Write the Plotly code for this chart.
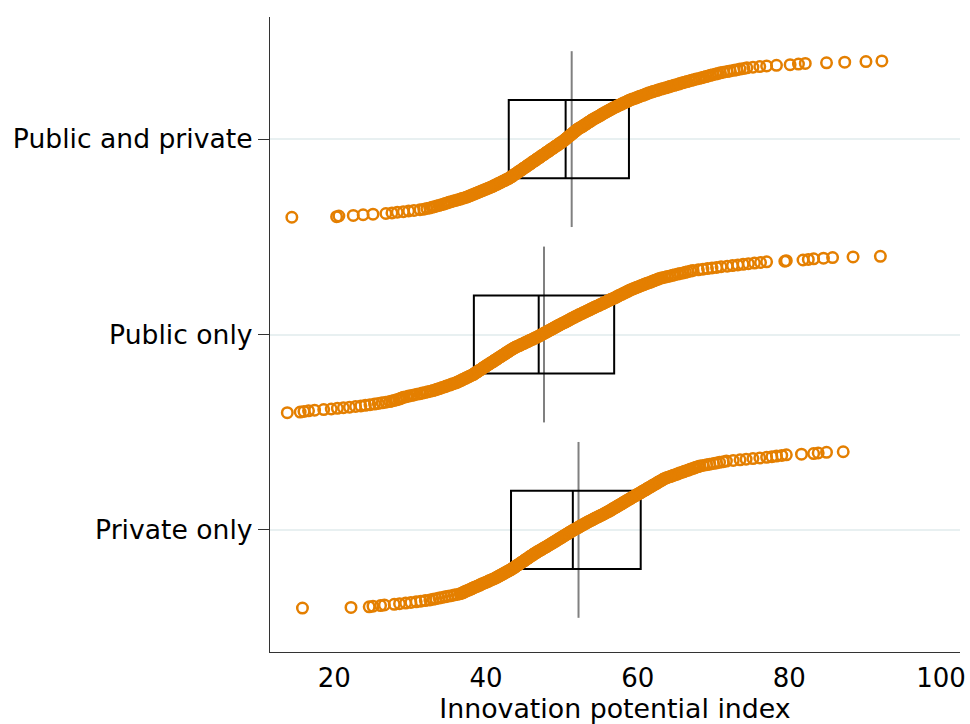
import plotly.graph_objects as go

# Groups, listed from the bottom row of the chart to the top row
categories = ["Private only", "Public only", "Public and private"]

# Innovation potential index of each firm, sorted ascending within its group
values_private = [
    15.8, 22.2, 24.6, 25.1, 26.1, 26.6, 27.9, 28.6, 29.4, 30.1,
    30.8, 31.4, 32.0, 32.6,
    33.0, 33.4, 33.8, 34.2, 34.6, 35.0, 35.4, 35.8, 36.2, 36.6,
    36.8, 37.0, 37.1, 37.3, 37.5, 37.7, 37.9, 38.1, 38.2, 38.4,
    38.6, 38.8, 39.0, 39.2, 39.3, 39.5, 39.7, 39.9, 40.1, 40.3,
    40.4, 40.6, 40.8, 41.0,
    41.2, 41.3, 41.5, 41.6, 41.8, 41.9, 42.1, 42.2, 42.4, 42.5,
    42.7, 42.8, 43.0, 43.1, 43.3,
    43.4, 43.5, 43.7, 43.8, 43.9, 44.0, 44.1, 44.3, 44.4, 44.5,
    44.6, 44.7, 44.9, 45.0, 45.1, 45.2, 45.3, 45.5, 45.6, 45.7,
    45.8, 45.9, 46.1, 46.2, 46.3,
    46.4, 46.6, 46.7, 46.8, 47.0, 47.1, 47.3, 47.4, 47.5, 47.7,
    47.8, 48.0, 48.1, 48.2, 48.4, 48.5, 48.6, 48.8, 48.9,
    49.0, 49.2, 49.3, 49.4, 49.6, 49.7, 49.8, 50.0, 50.1, 50.2,
    50.4, 50.5, 50.6, 50.8, 50.9, 51.0, 51.2, 51.3, 51.4,
    51.6, 51.7, 51.9, 52.0, 52.2, 52.3, 52.4, 52.6, 52.7, 52.9,
    53.0, 53.2, 53.3,
    53.5, 53.6, 53.8, 54.0, 54.1, 54.3, 54.4, 54.6, 54.8, 54.9,
    55.1, 55.3, 55.4, 55.6, 55.7, 55.9,
    56.0, 56.2, 56.3, 56.5, 56.6, 56.7, 56.9, 57.0, 57.2, 57.3,
    57.4, 57.6, 57.7, 57.9, 58.0, 58.1, 58.3, 58.4, 58.5, 58.7,
    58.8, 59.0, 59.1, 59.2, 59.4, 59.5, 59.7, 59.8, 59.9, 60.1,
    60.2, 60.4, 60.5, 60.6, 60.8, 60.9, 61.1, 61.2, 61.3, 61.5,
    61.6, 61.8, 61.9, 62.0, 62.2, 62.3, 62.5, 62.6, 62.7, 62.9,
    63.0, 63.2, 63.3, 63.4, 63.6, 63.8,
    64.0, 64.3, 64.5, 64.7, 65.0, 65.2, 65.4, 65.6, 65.9, 66.1,
    66.3, 66.6, 66.8, 67.0, 67.3, 67.5, 67.7, 68.0, 68.2,
    68.6, 69.1, 69.5, 70.0, 70.4, 70.8, 71.3, 71.7,
    72.6, 73.5, 74.3, 75.2, 76.1,
    77.0, 77.7, 78.3, 79.0, 79.6,
    81.6, 83.2, 83.8, 84.9, 87.1,
]

values_public = [
    13.8, 15.5, 16.0, 16.6, 17.4, 18.6, 19.6, 20.4, 21.2, 22.0,
    22.8, 23.5, 24.1, 24.7, 25.3, 25.8, 26.3, 26.8, 27.3,
    27.6, 27.9, 28.2, 28.5, 28.7, 28.9, 29.1,
    29.5, 29.8, 30.2, 30.5, 30.9, 31.3, 31.6, 32.0, 32.3, 32.7,
    33.0,
    33.3, 33.5, 33.8, 34.0, 34.2, 34.5, 34.7, 34.9, 35.2, 35.4,
    35.6, 35.9, 36.1,
    36.3, 36.4, 36.6, 36.8, 36.9, 37.1, 37.3, 37.4, 37.6, 37.8,
    37.9, 38.1, 38.3, 38.4,
    38.5, 38.6, 38.8, 38.9, 39.0, 39.1, 39.3, 39.4, 39.5, 39.6,
    39.7, 39.9, 40.0, 40.1, 40.2, 40.4, 40.5, 40.6, 40.7, 40.9,
    41.0,
    41.1, 41.2, 41.4, 41.5, 41.6, 41.7, 41.9, 42.0, 42.1, 42.2,
    42.4, 42.5, 42.6, 42.7, 42.9, 43.0, 43.1, 43.2, 43.4, 43.5,
    43.6,
    43.8, 43.9, 44.1, 44.3, 44.5, 44.6, 44.8, 45.0, 45.1, 45.3,
    45.5, 45.6, 45.8, 46.0, 46.2, 46.3, 46.5, 46.7, 46.8, 47.0,
    47.1, 47.3, 47.4, 47.6, 47.7, 47.9, 48.0, 48.2, 48.3, 48.5,
    48.6, 48.8, 48.9,
    49.1, 49.2, 49.4, 49.5, 49.7, 49.8, 50.0, 50.1, 50.3, 50.5,
    50.6, 50.8, 50.9, 51.1, 51.2, 51.4, 51.5,
    51.7, 51.8, 52.0, 52.2, 52.3, 52.5, 52.7, 52.8, 53.0, 53.2,
    53.3, 53.5, 53.7, 53.8, 54.0, 54.2,
    54.3, 54.5, 54.7, 54.9, 55.0, 55.2, 55.4, 55.5, 55.7, 55.9,
    56.0, 56.2, 56.4, 56.5, 56.7, 56.9,
    57.1, 57.2, 57.4, 57.5, 57.7, 57.9, 58.0, 58.2, 58.4, 58.5,
    58.7, 58.8, 59.0,
    59.2, 59.4, 59.6, 59.8, 60.0, 60.2, 60.4, 60.6, 60.8, 61.0,
    61.2, 61.5, 61.7, 61.9, 62.1, 62.3, 62.5, 62.7, 62.9,
    63.2, 63.6, 63.9, 64.3, 64.6, 64.9, 65.3, 65.6, 66.0, 66.3,
    66.6, 67.0, 67.3,
    68.0, 68.6, 69.2, 69.8, 70.4,
    71.0, 71.8, 72.5, 73.2, 73.9, 74.6, 75.4, 76.2, 77.0,
    79.4, 79.6, 81.8, 82.5, 83.2, 84.5, 85.7, 88.4, 92.0,
]

values_both = [
    14.4, 20.3, 20.6, 22.5, 23.8, 25.1, 26.8, 27.6, 28.3, 29.1,
    29.8, 30.5, 31.3,
    31.8, 32.2, 32.6, 32.9, 33.2,
    33.5, 33.8, 34.1, 34.4, 34.6, 34.9, 35.1, 35.4,
    35.7, 36.0, 36.3, 36.6, 36.8, 37.1, 37.4, 37.6,
    37.8, 38.0, 38.2, 38.4, 38.6, 38.8, 39.0, 39.2, 39.4, 39.6,
    39.8, 40.0, 40.2, 40.4, 40.6,
    40.8, 41.0, 41.1, 41.3, 41.5, 41.6, 41.8, 42.0, 42.1, 42.3,
    42.5, 42.6, 42.8, 43.0,
    43.1, 43.2, 43.4, 43.5, 43.6, 43.7, 43.8, 44.0, 44.1, 44.2,
    44.3, 44.4, 44.6, 44.7, 44.8, 44.9, 45.0, 45.2, 45.3, 45.4,
    45.5, 45.6, 45.8, 45.9, 46.0, 46.1, 46.2, 46.4, 46.5, 46.6,
    46.7, 46.8, 47.0, 47.1, 47.2, 47.3, 47.4, 47.6, 47.7, 47.8,
    47.9, 48.0, 48.2, 48.3, 48.4, 48.5, 48.6, 48.8, 48.9, 49.0,
    49.1, 49.2, 49.4, 49.5, 49.6, 49.7, 49.8, 50.0, 50.1, 50.2,
    50.3, 50.4,
    50.5, 50.6, 50.7, 50.8, 50.9, 51.0, 51.1, 51.2, 51.3, 51.4,
    51.5, 51.6, 51.7, 51.8, 51.9, 52.0, 52.1, 52.2, 52.4,
    52.5, 52.7, 52.8, 52.9, 53.0, 53.2, 53.3, 53.4, 53.5, 53.7,
    53.8, 53.9, 54.0, 54.2,
    54.3, 54.5, 54.6, 54.8, 54.9, 55.1, 55.2, 55.3, 55.5, 55.6,
    55.8, 55.9, 56.1, 56.2, 56.4, 56.5, 56.7, 56.8,
    57.0, 57.2, 57.3, 57.5, 57.7, 57.9, 58.0, 58.2, 58.4, 58.6,
    58.7, 58.9,
    59.1, 59.3, 59.6, 59.8, 60.0, 60.2, 60.4, 60.7, 60.9, 61.1,
    61.3, 61.5, 61.8, 62.0,
    62.3, 62.6, 62.8, 63.1, 63.4, 63.7, 64.0, 64.2, 64.5, 64.8,
    65.1, 65.4, 65.6, 65.9, 66.2, 66.5,
    66.8, 67.1, 67.4, 67.7, 68.1, 68.4, 68.7, 69.0, 69.3, 69.6,
    69.9, 70.3, 70.6, 70.9,
    71.3, 71.8, 72.2, 72.7, 73.1, 73.5, 74.0, 74.4,
    75.2, 76.1, 77.0, 78.3, 80.1, 81.2, 82.1, 84.9, 87.3, 90.1,
    92.2,
]

# Summary statistics per group (same order as categories)
q1 = [43.3, 38.4, 43.0]
median = [51.45, 46.95, 50.5]
q3 = [60.4, 56.9, 58.85]
mean = [52.2, 47.65, 51.3]

# X-axis tick labels
x_ticks = [20, 40, 60, 80, 100]

series = [values_private, values_public, values_both]

ORANGE = "#e47f00"
FONT = "DejaVu Sans, Verdana, sans-serif"
BOX_HALF = 0.2     # half height of the interquartile box
MEAN_HALF = 0.45   # half height of the mean marker line
SPREAD = 0.4       # half height of the rank-ordered point cloud

fig = go.Figure()

# Interquartile boxes, medians and mean lines (drawn beneath the points)
for k in range(len(categories)):
    fig.add_trace(go.Scatter(
        x=[mean[k], mean[k]], y=[k - MEAN_HALF, k + MEAN_HALF],
        mode="lines", line=dict(color="#808080", width=2),
        hoverinfo="skip", showlegend=False,
    ))
    fig.add_trace(go.Scatter(
        x=[q1[k], q3[k], q3[k], q1[k], q1[k]],
        y=[k - BOX_HALF, k - BOX_HALF, k + BOX_HALF, k + BOX_HALF, k - BOX_HALF],
        mode="lines", line=dict(color="black", width=2),
        hoverinfo="skip", showlegend=False,
    ))
    fig.add_trace(go.Scatter(
        x=[median[k], median[k]], y=[k - BOX_HALF, k + BOX_HALF],
        mode="lines", line=dict(color="black", width=2),
        hoverinfo="skip", showlegend=False,
    ))

# Each firm as an open circle, stacked vertically by its rank in the group
for k, vals in enumerate(series):
    ordered = sorted(vals)
    n = len(ordered)
    ys = [k - SPREAD + 2 * SPREAD * i / (n - 1) for i in range(n)]
    fig.add_trace(go.Scatter(
        x=ordered, y=ys, mode="markers",
        marker=dict(symbol="circle-open", size=10.5, color=ORANGE,
                    line=dict(width=2.5, color=ORANGE)),
        name=categories[k], showlegend=False,
    ))

fig.update_layout(
    width=970, height=724,
    margin=dict(l=270, r=10, t=17, b=72),
    paper_bgcolor="white", plot_bgcolor="white",
    font=dict(family=FONT, size=26, color="black"),
    showlegend=False,
    xaxis=dict(
        range=[11.52, 102.5],
        tickvals=x_ticks, ticktext=[str(t) for t in x_ticks],
        ticks="outside", ticklen=3, tickcolor="rgba(0,0,0,0)",
        showline=True, linecolor="#333333", linewidth=1.3,
        showgrid=False, zeroline=False, automargin=False,
        title=dict(text="Innovation potential index", standoff=0,
                   font=dict(size=26.8)),
        tickfont=dict(size=26),
    ),
    yaxis=dict(
        range=[-0.625, 2.625],
        tickvals=list(range(len(categories))), ticktext=categories,
        ticks="outside", ticklen=11, tickcolor="#333333", tickwidth=1.3,
        showline=True, linecolor="#333333", linewidth=1.3,
        showgrid=True, gridcolor="#e8f0f1", gridwidth=2,
        zeroline=False, automargin=False,
        tickfont=dict(size=26.6),
    ),
)

fig.write_html("out.html")
